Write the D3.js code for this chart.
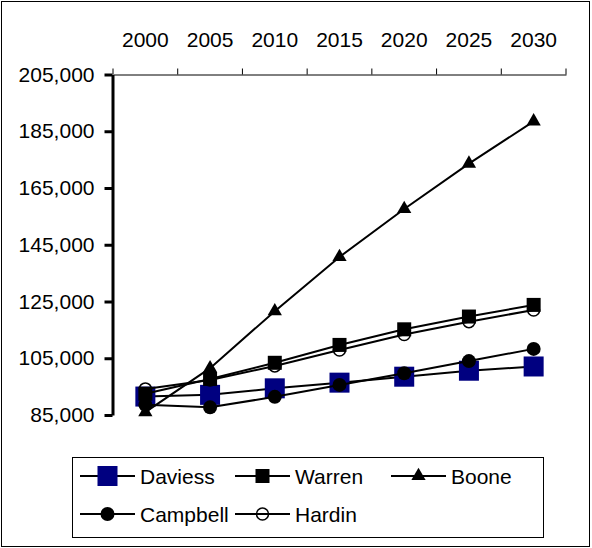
<!DOCTYPE html>
<html>
<head>
<meta charset="utf-8">
<script src="https://cdn.jsdelivr.net/npm/d3@7"></script>
<style>
  html, body { margin: 0; padding: 0; background: #fff; }
  svg { display: block; font-family: "Liberation Sans", Arial, sans-serif; }
</style>
</head>
<body>
<svg id="chart" width="592" height="548"></svg>
<script>
// Population projections by county, 2000–2030
const years = ["2000", "2005", "2010", "2015", "2020", "2025", "2030"];
const daviess  = [91500, 92100, 94400, 96400, 98500, 100600, 102100];
const warren   = [92500, 97700, 103400, 109700, 115200, 119700, 123800];
const boone    = [86000, 101500, 121600, 140700, 157600, 173600, 188500];
const campbell = [88600, 87700, 91400, 95600, 99700, 104000, 108300];
const hardin   = [94200, 97300, 102300, 107900, 113400, 117900, 122000];
const yTicks   = [85000, 105000, 125000, 145000, 165000, 185000, 205000];

const series = [
  { name: "Daviess",  values: daviess,  marker: "bigSquare" },
  { name: "Warren",   values: warren,   marker: "square" },
  { name: "Boone",    values: boone,    marker: "triangle" },
  { name: "Campbell", values: campbell, marker: "dot" },
  { name: "Hardin",   values: hardin,   marker: "ring" }
];

const svg = d3.select("#chart");
const FONT = 21;

// outer frame
svg.append("rect")
  .attr("x", 1.5).attr("y", 1.5).attr("width", 588).attr("height", 545)
  .attr("fill", "#fff").attr("stroke", "#000").attr("stroke-width", 1);

const x = d3.scaleBand().domain(years).range([113, 566]).padding(0);
const y = d3.scaleLinear().domain([85000, 205000]).range([415, 74.5]);
const cx = d => x(d) + x.bandwidth() / 2;

// category axis along the top
const topY = 74.5;
const xAxis = svg.append("g")
  .attr("transform", `translate(0,${topY})`)
  .call(d3.axisTop(x).tickSize(0).tickPadding(27.5).tickSizeOuter(0));
xAxis.select(".domain").attr("stroke", "#000").attr("stroke-width", 1);
xAxis.selectAll("text").attr("font-size", FONT).attr("fill", "#000")
  .style("font-family", "Liberation Sans, Arial, sans-serif");

// tick marks at category boundaries
const bounds = years.map(d => x(d)).concat([x.range()[1]]);
svg.append("g").selectAll("line").data(bounds).join("line")
  .attr("x1", d => d).attr("x2", d => d)
  .attr("y1", topY).attr("y2", topY - 6)
  .attr("stroke", "#000").attr("stroke-width", 1);

// value axis
const yAxis = svg.append("g")
  .attr("transform", "translate(112.5,0)")
  .call(d3.axisLeft(y).tickValues(yTicks).tickSize(8).tickSizeOuter(0)
    .tickPadding(10).tickFormat(d3.format(",")));
yAxis.select(".domain").attr("stroke", "#000").attr("stroke-width", 3);
yAxis.selectAll(".tick line").attr("stroke", "#000").attr("stroke-width", 3);
yAxis.selectAll("text").attr("font-size", FONT).attr("fill", "#000")
  .style("font-family", "Liberation Sans, Arial, sans-serif");

// marker drawing
function drawMarker(g, kind, px, py) {
  if (kind === "bigSquare") {
    g.append("rect").attr("x", px - 10).attr("y", py - 10)
      .attr("width", 20).attr("height", 20).attr("fill", "#000080");
  } else if (kind === "square") {
    g.append("rect").attr("x", px - 7).attr("y", py - 7)
      .attr("width", 14).attr("height", 14).attr("fill", "#000");
  } else if (kind === "triangle") {
    g.append("path")
      .attr("d", d3.symbol().type(d3.symbolTriangle).size(88)())
      .attr("transform", `translate(${px},${py})`)
      .attr("fill", "#000");
  } else if (kind === "dot") {
    g.append("circle").attr("cx", px).attr("cy", py).attr("r", 7).attr("fill", "#000");
  } else if (kind === "ring") {
    g.append("circle").attr("cx", px).attr("cy", py).attr("r", 6)
      .attr("fill", "none").attr("stroke", "#000").attr("stroke-width", 1.5);
  }
}

const line = d3.line().x((d, i) => cx(years[i])).y(d => y(d));

series.forEach(s => {
  const g = svg.append("g");
  g.append("path").attr("d", line(s.values))
    .attr("fill", "none").attr("stroke", "#000").attr("stroke-width", 2);
  s.values.forEach((v, i) => drawMarker(g, s.marker, cx(years[i]), y(v)));
});

// legend
const legend = svg.append("g");
legend.append("rect")
  .attr("x", 72.5).attr("y", 457.5).attr("width", 471).attr("height", 80)
  .attr("fill", "#fff").attr("stroke", "#000").attr("stroke-width", 1);

const legendPos = [
  { x: 80, y: 476 }, { x: 235, y: 476 }, { x: 391, y: 476 },
  { x: 80, y: 514 }, { x: 235, y: 514 }
];
series.forEach((s, i) => {
  const p = legendPos[i];
  const g = legend.append("g");
  g.append("line").attr("x1", p.x).attr("x2", p.x + 55)
    .attr("y1", p.y).attr("y2", p.y)
    .attr("stroke", "#000").attr("stroke-width", 2);
  drawMarker(g, s.marker, p.x + 27.5, p.y);
  g.append("text").attr("x", p.x + 60).attr("y", p.y + 7.5)
    .attr("font-size", FONT).attr("fill", "#000").text(s.name);
});
</script>
</body>
</html>
